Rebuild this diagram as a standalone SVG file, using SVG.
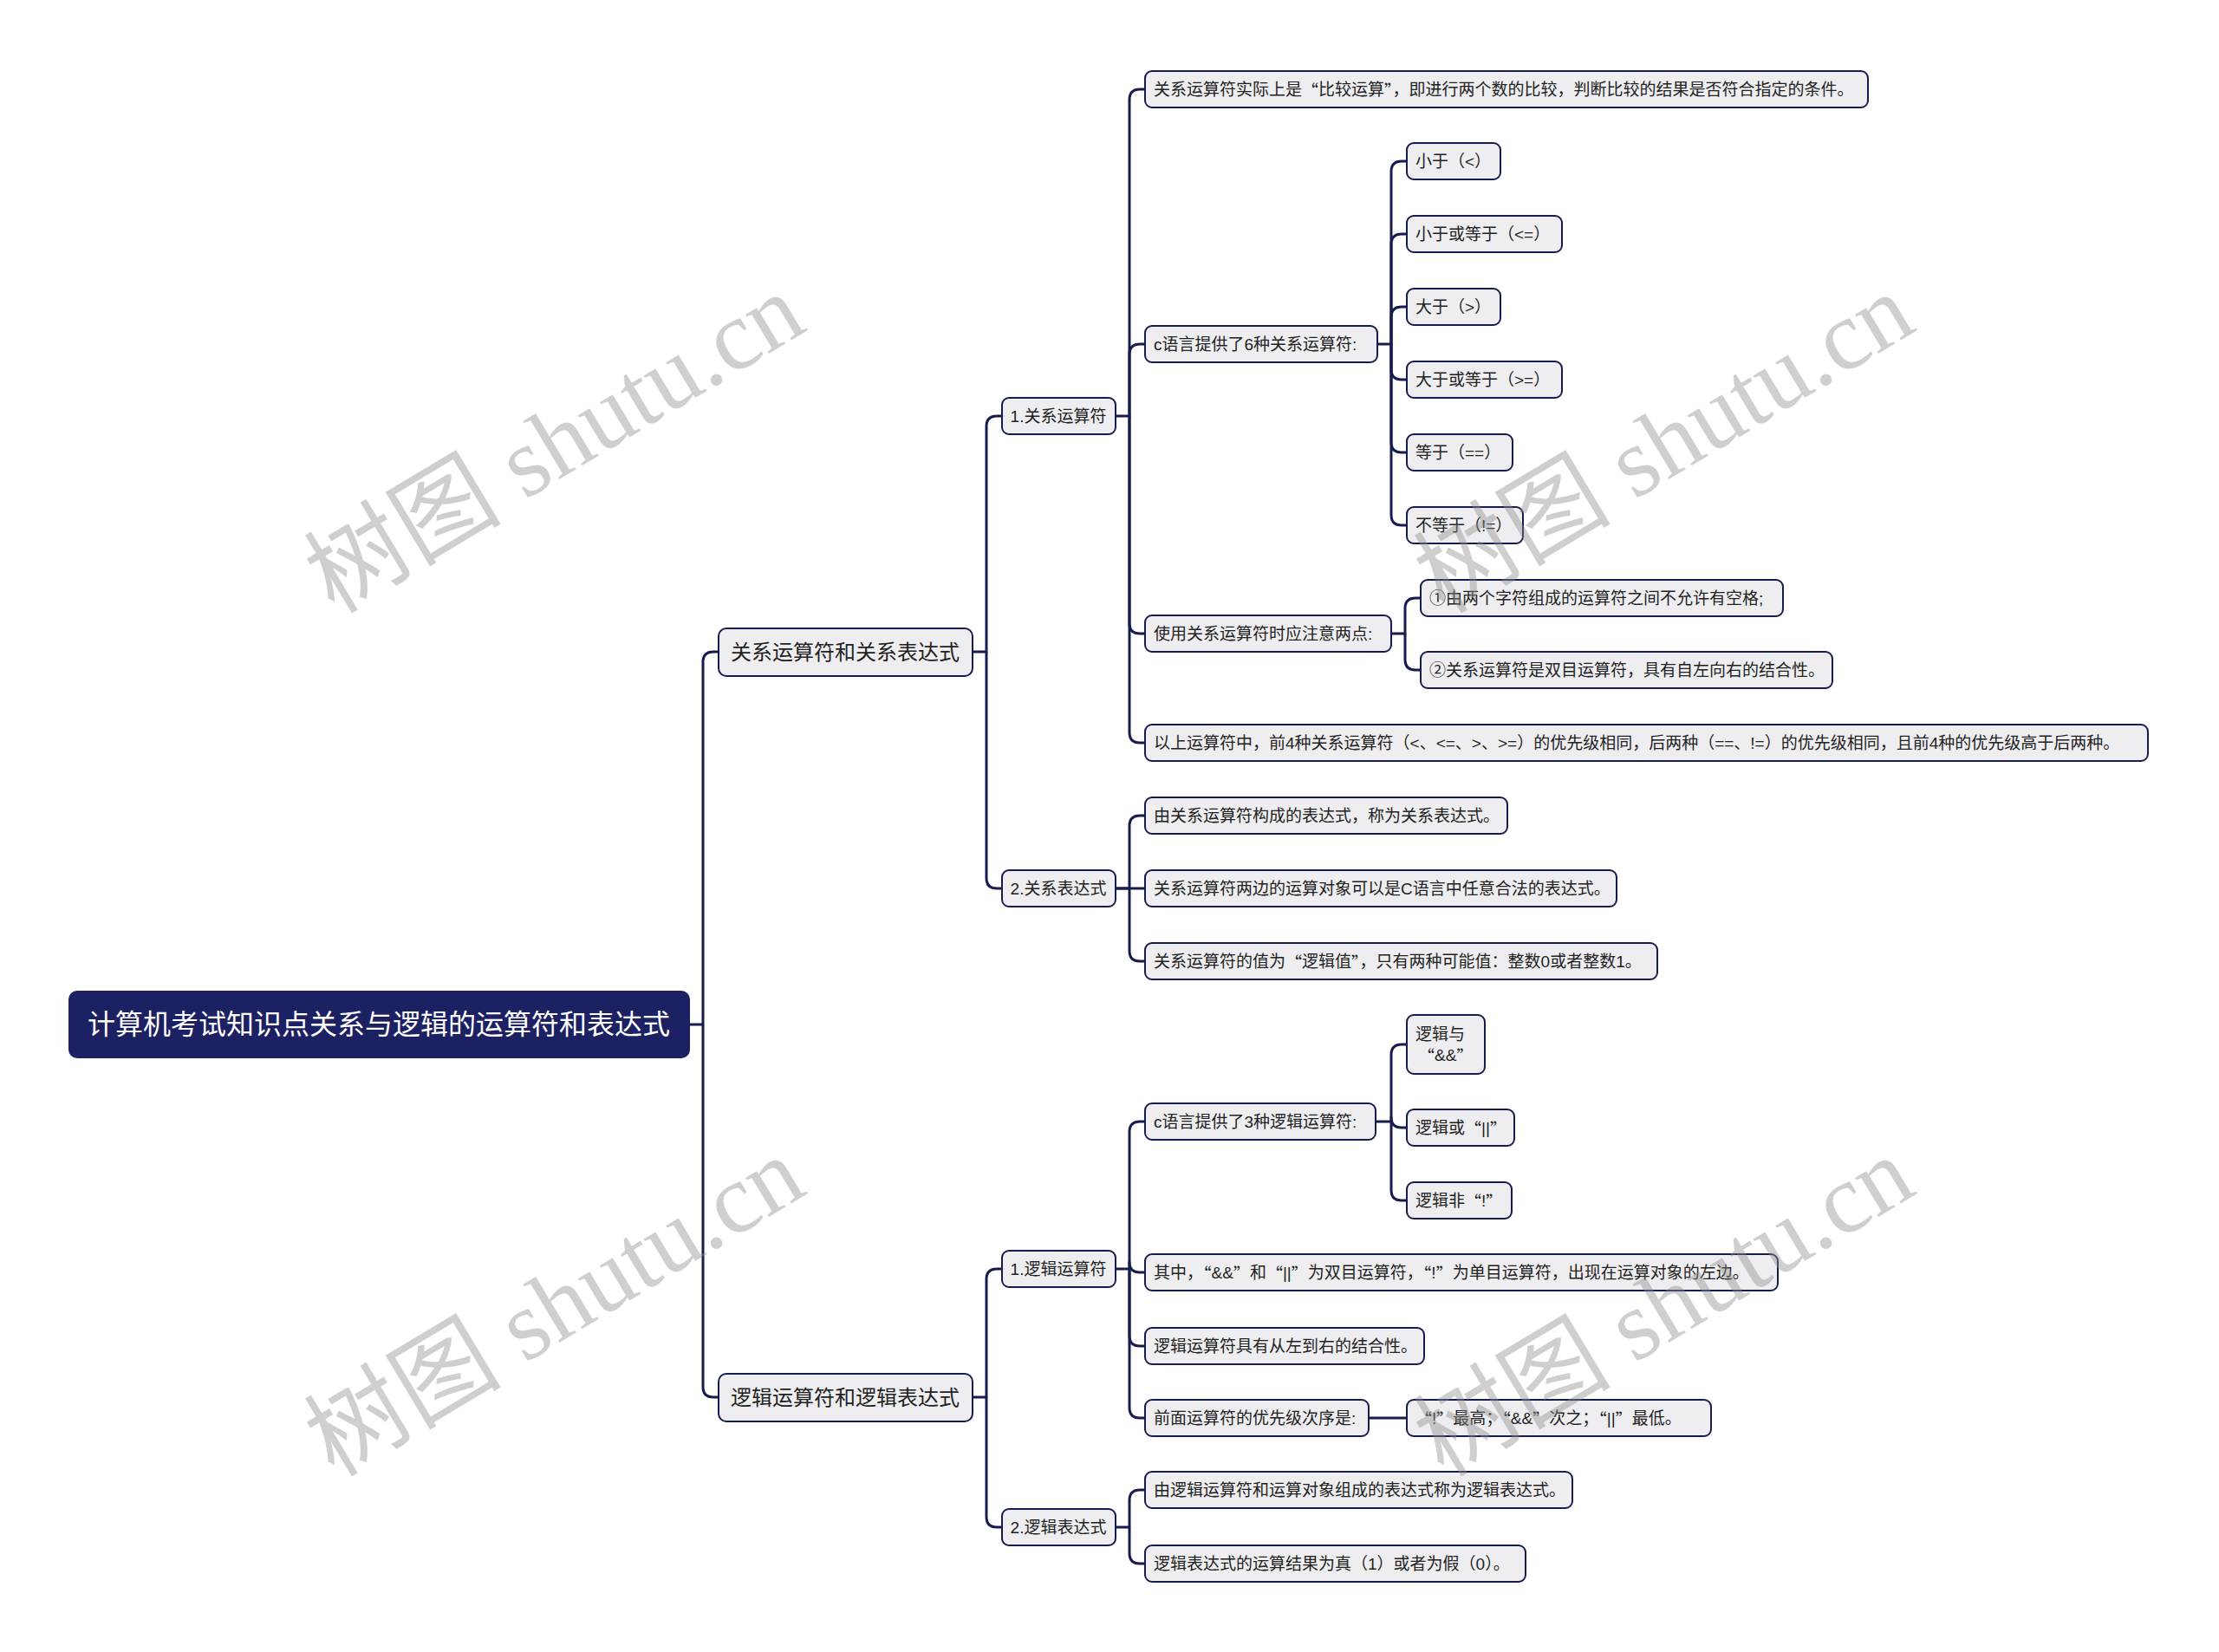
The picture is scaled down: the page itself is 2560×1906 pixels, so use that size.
<svg xmlns="http://www.w3.org/2000/svg" width="2560" height="1906" viewBox="0 0 2560 1906">
<style>
.n rect{fill:#eeeef0;stroke:#171c4f;stroke-width:2}
.n text{font-family:"Liberation Sans","Noto Sans CJK SC",sans-serif;font-size:19px;fill:#222;dominant-baseline:central}
.q{font-family:"Noto Sans CJK SC",sans-serif}
.l1 text{font-size:24px}
.root rect{fill:#1c2163;stroke:#1c2163}
.root text{font-size:32px;fill:#fff}
.c path{fill:none;stroke:#171c4f;stroke-width:3;stroke-linejoin:round}
.wm{font-family:"Liberation Serif","Noto Sans CJK SC",serif;font-size:114px;fill:#8c8c8c;fill-opacity:0.42}
</style>
<rect width="2560" height="1906" fill="#fff"/>
<g class="c" id="connectors">
<path d="M795 1182H811V764Q811 752 823 752H829"/>
<path d="M811 1182V1600Q811 1612 823 1612H829"/>
<path d="M1122 752H1138V492Q1138 480 1150 480H1156"/>
<path d="M1138 752V1013Q1138 1025 1150 1025H1156"/>
<path d="M1122 1612H1138V1476Q1138 1464 1150 1464H1156"/>
<path d="M1138 1612V1750Q1138 1762 1150 1762H1156"/>
<path d="M1287 480H1303V115Q1303 103 1315 103H1321"/>
<path d="M1303 480V409Q1303 397 1315 397H1321"/>
<path d="M1303 480V719Q1303 731 1315 731H1321"/>
<path d="M1303 480V845Q1303 857 1315 857H1321"/>
<path d="M1287 1025H1303V953Q1303 941 1315 941H1321"/>
<path d="M1287 1025H1321"/>
<path d="M1303 1025V1097Q1303 1109 1315 1109H1321"/>
<path d="M1287 1464H1303V1306Q1303 1294 1315 1294H1321"/>
<path d="M1303 1464V1456Q1303 1468 1315 1468H1321"/>
<path d="M1303 1464V1541Q1303 1553 1315 1553H1321"/>
<path d="M1303 1464V1624Q1303 1636 1315 1636H1321"/>
<path d="M1287 1762H1303V1731Q1303 1719 1315 1719H1321"/>
<path d="M1303 1762V1792Q1303 1804 1315 1804H1321"/>
<path d="M1589 397H1605V198Q1605 186 1617 186H1623"/>
<path d="M1605 397V282Q1605 270 1617 270H1623"/>
<path d="M1605 397V366Q1605 354 1617 354H1623"/>
<path d="M1605 397V426Q1605 438 1617 438H1623"/>
<path d="M1605 397V510Q1605 522 1617 522H1623"/>
<path d="M1605 397V594Q1605 606 1617 606H1623"/>
<path d="M1605 731H1621V702Q1621 690 1633 690H1639"/>
<path d="M1621 731V761Q1621 773 1633 773H1639"/>
<path d="M1587 1294H1605V1217Q1605 1205 1617 1205H1623"/>
<path d="M1605 1294V1289Q1605 1301 1617 1301H1623"/>
<path d="M1605 1294V1373Q1605 1385 1617 1385H1623"/>
<path d="M1579 1636H1623"/>
</g>
<g class="n root" id="root"><rect x="80" y="1144" width="715" height="76" rx="9"/><text x="437" y="1182" text-anchor="middle">计算机考试知识点关系与逻辑的运算符和表达式</text></g>
<g class="n l1" id="n-gx"><rect x="829" y="725" width="293" height="55" rx="9"/><text x="975" y="752" text-anchor="middle">关系运算符和关系表达式</text></g>
<g class="n l1" id="n-lj"><rect x="829" y="1585" width="293" height="55" rx="9"/><text x="975" y="1612" text-anchor="middle">逻辑运算符和逻辑表达式</text></g>
<g class="n" id="n-gxysf"><rect x="1156" y="459" width="131" height="42" rx="8"/><text x="1221" y="480" text-anchor="middle">1.关系运算符</text></g>
<g class="n" id="n-gxbds"><rect x="1156" y="1004" width="131" height="42" rx="8"/><text x="1221" y="1025" text-anchor="middle">2.关系表达式</text></g>
<g class="n" id="n-ljysf"><rect x="1156" y="1443" width="131" height="42" rx="8"/><text x="1221" y="1464" text-anchor="middle">1.逻辑运算符</text></g>
<g class="n" id="n-ljbds"><rect x="1156" y="1741" width="131" height="42" rx="8"/><text x="1221" y="1762" text-anchor="middle">2.逻辑表达式</text></g>
<g class="n" id="n-a1"><rect x="1321" y="82" width="834" height="42" rx="8"/><text x="1331" y="103">关系运算符实际上是<tspan class="q">“</tspan>比较运算<tspan class="q">”</tspan>，即进行两个数的比较，判断比较的结果是否符合指定的条件。</text></g>
<g class="n" id="n-a2"><rect x="1321" y="376" width="268" height="42" rx="8"/><text x="1331" y="397">c语言提供了6种关系运算符:</text></g>
<g class="n" id="n-a3"><rect x="1321" y="710" width="284" height="42" rx="8"/><text x="1331" y="731">使用关系运算符时应注意两点:</text></g>
<g class="n" id="n-a4"><rect x="1321" y="836" width="1157" height="42" rx="8"/><text x="1331" y="857">以上运算符中，前4种关系运算符（&lt;、&lt;=、&gt;、&gt;=）的优先级相同，后两种（==、!=）的优先级相同，且前4种的优先级高于后两种。</text></g>
<g class="n" id="n-b1"><rect x="1623" y="165" width="108" height="42" rx="8"/><text x="1633" y="186">小于（&lt;）</text></g>
<g class="n" id="n-b2"><rect x="1623" y="249" width="179" height="42" rx="8"/><text x="1633" y="270">小于或等于（&lt;=）</text></g>
<g class="n" id="n-b3"><rect x="1623" y="333" width="108" height="42" rx="8"/><text x="1633" y="354">大于（&gt;）</text></g>
<g class="n" id="n-b4"><rect x="1623" y="417" width="179" height="42" rx="8"/><text x="1633" y="438">大于或等于（&gt;=）</text></g>
<g class="n" id="n-b5"><rect x="1623" y="501" width="122" height="42" rx="8"/><text x="1633" y="522">等于（==）</text></g>
<g class="n" id="n-b6"><rect x="1623" y="585" width="134" height="42" rx="8"/><text x="1633" y="606">不等于（!=）</text></g>
<g class="n" id="n-c1"><rect x="1639" y="669" width="418" height="42" rx="8"/><text x="1649" y="690">①由两个字符组成的运算符之间不允许有空格;</text></g>
<g class="n" id="n-c2"><rect x="1639" y="752" width="475" height="42" rx="8"/><text x="1649" y="773">②关系运算符是双目运算符，具有自左向右的结合性。</text></g>
<g class="n" id="n-d1"><rect x="1321" y="920" width="418" height="42" rx="8"/><text x="1331" y="941">由关系运算符构成的表达式，称为关系表达式。</text></g>
<g class="n" id="n-d2"><rect x="1321" y="1004" width="544" height="42" rx="8"/><text x="1331" y="1025">关系运算符两边的运算对象可以是C语言中任意合法的表达式。</text></g>
<g class="n" id="n-d3"><rect x="1321" y="1088" width="591" height="42" rx="8"/><text x="1331" y="1109">关系运算符的值为<tspan class="q">“</tspan>逻辑值<tspan class="q">”</tspan>，只有两种可能值：整数0或者整数1。</text></g>
<g class="n" id="n-e1"><rect x="1321" y="1273" width="266" height="42" rx="8"/><text x="1331" y="1294">c语言提供了3种逻辑运算符:</text></g>
<g class="n" id="n-f1"><rect x="1623" y="1171" width="90" height="68" rx="8"/><text x="1633" y="1193">逻辑与</text><text x="1636" y="1217"><tspan class="q">“</tspan>&amp;&amp;<tspan class="q">”</tspan></text></g>
<g class="n" id="n-f2"><rect x="1623" y="1280" width="124" height="42" rx="8"/><text x="1633" y="1301">逻辑或<tspan class="q">“</tspan>||<tspan class="q">”</tspan></text></g>
<g class="n" id="n-f3"><rect x="1623" y="1364" width="121" height="42" rx="8"/><text x="1633" y="1385">逻辑非<tspan class="q">“</tspan>!<tspan class="q">”</tspan></text></g>
<g class="n" id="n-e2"><rect x="1321" y="1447" width="730" height="42" rx="8"/><text x="1331" y="1468">其中，<tspan class="q">“</tspan>&amp;&amp;<tspan class="q">”</tspan>和<tspan class="q">“</tspan>||<tspan class="q">”</tspan>为双目运算符，<tspan class="q">“</tspan>!<tspan class="q">”</tspan>为单目运算符，出现在运算对象的左边。</text></g>
<g class="n" id="n-e3"><rect x="1321" y="1532" width="322" height="42" rx="8"/><text x="1331" y="1553">逻辑运算符具有从左到右的结合性。</text></g>
<g class="n" id="n-e4"><rect x="1321" y="1615" width="258" height="42" rx="8"/><text x="1331" y="1636">前面运算符的优先级次序是:</text></g>
<g class="n" id="n-g1"><rect x="1623" y="1615" width="351" height="42" rx="8"/><text x="1633" y="1636"><tspan class="q">“</tspan>!<tspan class="q">”</tspan>最高；<tspan class="q">“</tspan>&amp;&amp;<tspan class="q">”</tspan>次之；<tspan class="q">“</tspan>||<tspan class="q">”</tspan>最低。</text></g>
<g class="n" id="n-h1"><rect x="1321" y="1698" width="493" height="42" rx="8"/><text x="1331" y="1719">由逻辑运算符和运算对象组成的表达式称为逻辑表达式。</text></g>
<g class="n" id="n-h2"><rect x="1321" y="1783" width="439" height="42" rx="8"/><text x="1331" y="1804">逻辑表达式的运算结果为真（1）或者为假（0）。</text></g>
<g id="watermarks">
<text class="wm" text-anchor="middle" transform="translate(640 512) rotate(-31)" dy="38">树图 shutu.cn</text>
<text class="wm" text-anchor="middle" transform="translate(1920 512) rotate(-31)" dy="38">树图 shutu.cn</text>
<text class="wm" text-anchor="middle" transform="translate(640 1508) rotate(-31)" dy="38">树图 shutu.cn</text>
<text class="wm" text-anchor="middle" transform="translate(1920 1508) rotate(-31)" dy="38">树图 shutu.cn</text>
</g>
</svg>
